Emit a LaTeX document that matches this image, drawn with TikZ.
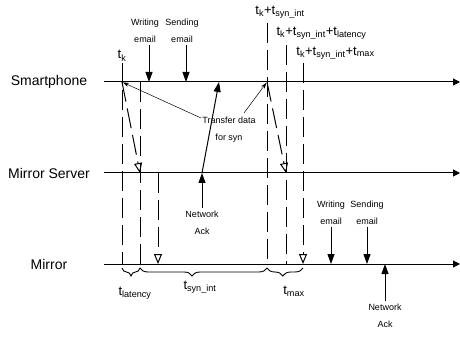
\documentclass[tikz,border=0pt]{standalone}
\usepackage{fontspec}
\setmainfont{Liberation Sans}
\usetikzlibrary{arrows.meta,decorations.pathreplacing}

\begin{document}
\begin{tikzpicture}[x=1pt,y=-1pt,
  lane/.style={font=\fontsize{14}{16}\selectfont},
  note/.style={font=\fontsize{9}{17}\selectfont,align=center,inner sep=0pt},
  tlab/.style={font=\fontsize{13}{15}\selectfont,inner sep=0pt},
  timeline/.style={line width=1pt,-{Triangle[length=7pt,width=7pt]}},
  guide/.style={line width=1pt,dash pattern=on 20pt off 7pt},
  push/.style={guide,-{Triangle[open,length=10pt,width=8pt]}},
  event/.style={line width=1pt,-{Triangle[length=10pt,width=7pt]}},
  hint/.style={line width=0.5pt,-{Stealth[length=6pt,width=4pt]},shorten >=1pt},
  tbrace/.style={decorate,decoration={brace,mirror,amplitude=8pt,aspect=#1},line width=0.9pt}]
  \useasboundingbox (0,0) rectangle (460,347);
  % time lines
  \foreach \nm/\y/\lab in {sp/82/Smartphone, ms/173/Mirror Server, mr/264/Mirror}{
     \node[lane] (\nm) at (49,\y) {\lab};
     \coordinate (\nm-a) at (104,\y);
     \coordinate (\nm-b) at (460,\y);
     \draw[timeline] (\nm-a) -- (\nm-b);
  }
  % vertical guides at the sync instants
  \foreach \nm/\x/\top in {ka/122/63, kb/140/82, kc/158/173, ta/267/23, tb/286/45, tc/303/63}{
     \coordinate (\nm-top) at (\x,\top);
     \coordinate (\nm-bot) at (\x,264);
  }
  \foreach \nm in {ka,kb,ta,tb}{
     \draw[guide] (\nm-top) -- (\nm-bot);
  }
  \draw[push] (kc-top) -- (kc-bot);
  \draw[push] (tc-top) -- (tc-bot);
  \draw[push] (ka-top |- sp-a) -- (kb-top |- ms-a);
  \draw[push] (ta-top |- sp-a) -- (tb-top |- ms-a);
  % labels of the instants
  \node[tlab] (lk) at (122,56) {t\textsubscript{k}};
  \node[tlab] (lks) at (280,12) {t\textsubscript{k}+t\textsubscript{syn\_int}};
  \node[tlab] (lksl) at (321.5,33) {t\textsubscript{k}+t\textsubscript{syn\_int}+t\textsubscript{latency}};
  \node[tlab] (lksm) at (335.5,53) {t\textsubscript{k}+t\textsubscript{syn\_int}+t\textsubscript{max}};
  % user events
  \foreach \nm/\x/\xt/\ln/\y/\lab in {w1/149/145/sp/82/Writing, s1/186/182/sp/82/Sending,
                                   w2/331/331/mr/264/Writing, s2/367/367/mr/264/Sending}{
     \node[note] (\nm) at (\xt,\y-51) {\lab\\email};
     \coordinate (\nm-a) at (\x,\y-37);
     \draw[event] (\nm-a) -- (\nm-a |- \ln-a);
  }
  % network acks
  \node[note] (n1) at (202,223) {Network\\Ack};
  \coordinate (n1-a) at (202,208);
  \coordinate (n1-b) at (219,82);
  \draw[event] (n1-a) -- (n1-a |- ms-a);
  \draw[event] (n1-a |- ms-a) -- (n1-b);
  \node[note] (n2) at (385,315.5) {Network\\Ack};
  \coordinate (n2-a) at (385,301);
  \draw[event] (n2-a) -- (n2-a |- mr-a);
  % transfer note
  \node[note] (tr) at (229,129.5) {Transfer data\\for syn};
  \coordinate (tr-l) at (201,118);
  \coordinate (tr-r) at (244,113);
  \draw[hint] (tr-l) -- (ka-top |- sp-a);
  \draw[hint] (tr-r) -- (ta-top |- sp-a);
  % intervals
  \draw[tbrace=0.5] ([yshift=-4pt]ka-bot) -- ([yshift=-4pt]kb-bot);
  \draw[tbrace=0.41] ([yshift=-4pt]kb-bot) -- ([yshift=-4pt]ta-bot);
  \draw[tbrace=0.44] ([yshift=-4pt]ta-bot) -- ([yshift=-4pt]tc-bot);
  \node[tlab] (blat) at (135,293) {t\textsubscript{latency}};
  \node[tlab] (bsyn) at (200,287) {t\textsubscript{syn\_int}};
  \node[tlab] (bmax) at (294,291) {t\textsubscript{max}};
\end{tikzpicture}
\end{document}
